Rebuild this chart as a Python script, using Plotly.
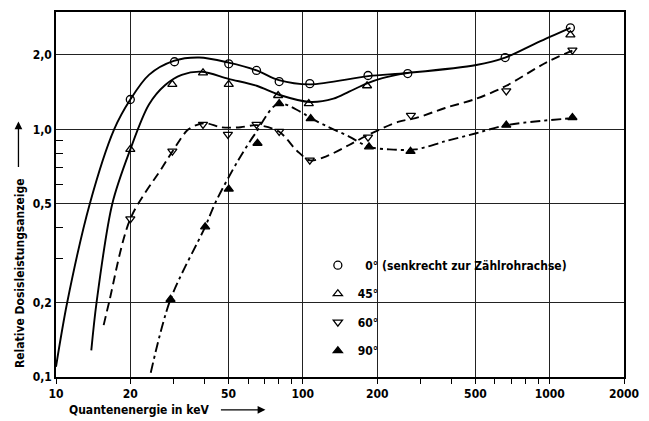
import plotly.graph_objects as go

# ---- axis ticks ----
x_tickvals = [10, 20, 50, 100, 200, 500, 1000, 2000]
x_ticktext = ["10", "20", "50", "100", "200", "500", "1000", "2000"]
x_minor = [30, 40, 60, 70, 80, 90, 300, 400, 600, 700, 800, 900]
y_tickvals = [0.1, 0.2, 0.5, 1.0, 2.0]
y_ticktext = ["0,1", "0,2", "0,5", "1,0", "2,0"]
y_minor = [0.3, 0.4, 0.6, 0.7, 0.8, 0.9]

# ---- measured points (markers) ----
e0 = [20, 30.2, 50.1, 64.9, 80.2, 106.7, 183.7, 266, 660, 1213]
r0 = [1.32, 1.875, 1.84, 1.73, 1.56, 1.53, 1.65, 1.68, 1.95, 2.57]
e45 = [20, 29.6, 39.4, 50.1, 79.4, 105.7, 182, 1213]
r45 = [0.83, 1.52, 1.69, 1.52, 1.37, 1.27, 1.50, 2.41]
e60 = [20, 29.6, 39.4, 49.7, 64.9, 80.2, 106.7, 183.7, 274, 667, 1236]
r60 = [0.435, 0.817, 1.047, 0.955, 1.047, 0.982, 0.751, 0.93, 1.14, 1.43, 2.09]
e90 = [29.1, 40.2, 50.1, 65.5, 80.2, 107.6, 185.4, 273, 667, 1236]
r90 = [0.206, 0.404, 0.574, 0.879, 1.27, 1.106, 0.85, 0.815, 1.04, 1.117]

# ---- drawn curves ----
c0_e = [10.0, 11.1, 13.7, 17.2, 20, 23.8, 30, 38, 50, 65, 80, 107, 184, 266, 504, 660, 890, 1213]
c0_r = [0.11, 0.2, 0.5, 1.0, 1.32, 1.66, 1.89, 1.95, 1.86, 1.73, 1.58, 1.52, 1.64, 1.69, 1.82, 1.95, 2.24, 2.57]
c45_e = [13.9, 14.6, 16.9, 20, 23.8, 27.7, 32.3, 39, 50, 65, 80, 107, 133, 154, 181, 210, 266]
c45_r = [0.128, 0.2, 0.5, 0.83, 1.26, 1.51, 1.66, 1.71, 1.60, 1.50, 1.38, 1.29, 1.33, 1.42, 1.53, 1.61, 1.69]
c60_e = [15.6, 16.4, 20, 26.9, 30, 34.4, 40, 46.5, 56, 65, 80, 94.6, 107, 125, 154, 184, 245, 286, 377, 504, 667, 975, 1236]
c60_r = [0.162, 0.2, 0.435, 0.70, 0.83, 1.0, 1.06, 1.02, 1.02, 1.04, 0.98, 0.82, 0.75, 0.78, 0.865, 0.95, 1.075, 1.11, 1.22, 1.33, 1.50, 1.87, 2.08]
c90_e = [24.2, 29.1, 40.2, 44.4, 54.5, 63.6, 79.4, 97.5, 107.6, 125, 154, 185, 224, 286, 377, 504, 667, 1236]
c90_r = [0.104, 0.206, 0.404, 0.51, 0.745, 0.95, 1.27, 1.18, 1.11, 1.03, 0.935, 0.85, 0.83, 0.83, 0.895, 0.965, 1.04, 1.11]

names = ["\u20070° (senkrecht zur Zählrohrachse)", "45°", "60°", "90°"]

FONT = "Liberation Sans Narrow, DejaVu Sans Condensed, Arial Narrow, sans-serif"

fig = go.Figure()

curves = [
    (c0_e, c0_r, "solid"),
    (c45_e, c45_r, "solid"),
    (c60_e, c60_r, "9px,5px"),
    (c90_e, c90_r, "10px,4px,3px,4px"),
]
for ce, cr, dash in curves:
    fig.add_trace(go.Scatter(x=ce, y=cr, mode="lines", showlegend=False,
                             line=dict(color="black", width=1.9, dash=dash, shape="spline", smoothing=0.9),
                             hoverinfo="skip"))

markers = [
    (e0, r0, "circle-open", names[0]),
    (e45, r45, "triangle-up-open", names[1]),
    (e60, r60, "triangle-down-open", names[2]),
    (e90, r90, "triangle-up", names[3]),
]
for i, (me, mr, sym, nm) in enumerate(markers):
    fig.add_trace(go.Scatter(x=me, y=mr, mode="markers", name=nm, legendgroup=str(i),
                             marker=dict(symbol=sym, size=8, color="black",
                                         line=dict(color="black", width=1.3)),
                             cliponaxis=False))

fig.add_shape(type="rect", xref="paper", yref="paper", x0=0.4626, x1=0.897, y0=0.267, y1=0.3406,
              fillcolor="white", line=dict(width=0), layer="between")
fig.add_shape(type="rect", xref="paper", yref="paper", x0=0.4626, x1=0.5687, y0=0.0327, y1=0.3406,
              fillcolor="white", line=dict(width=0), layer="between")

fig.add_annotation(text="Relative Dosisleistungsanzeige", textangle=-90, xref="paper", yref="paper",
                   x=-0.0643, y=0.286, xanchor="center", yanchor="middle", showarrow=False,
                   font=dict(family=FONT, size=12, color="black", weight="bold"))
fig.add_annotation(text="Quantenenergie in keV", xref="paper", yref="paper",
                   x=0.146, y=-0.0899, xanchor="center", yanchor="middle", showarrow=False,
                   font=dict(family=FONT, size=12, color="black", weight="bold"))
# arrows
fig.add_annotation(text="", xref="paper", yref="paper", x=0.3687, y=-0.0899, ax=-46, ay=0,
                   showarrow=True, arrowhead=2, arrowsize=1.2, arrowwidth=1.3, arrowcolor="black")
fig.add_annotation(text="", xref="paper", yref="paper", x=-0.0661, y=0.700, ax=0, ay=47,
                   showarrow=True, arrowhead=2, arrowsize=1.2, arrowwidth=1.3, arrowcolor="black")

fig.update_layout(
    width=649, height=421,
    margin=dict(l=56, r=18, t=10, b=44),
    paper_bgcolor="white", plot_bgcolor="white",
    font=dict(family=FONT, size=12, color="black", weight="bold"),
    legend=dict(x=0.461, y=0.3460, xanchor="left", yanchor="top", bgcolor="rgba(0,0,0,0)",
                traceorder="grouped", tracegroupgap=9.5, itemwidth=30,
                font=dict(family=FONT, size=12, color="black", weight="bold")),
    xaxis=dict(type="log", range=[1, 3.30103], tickvals=x_tickvals, ticktext=x_ticktext,
               showgrid=True, gridcolor="#222", gridwidth=1,
               showline=True, mirror=True, linecolor="black", linewidth=1.6,
               ticks="outside", ticklen=5, tickcolor="black", tickwidth=1.2,
               minor=dict(tickvals=x_minor, ticks="outside", ticklen=5, tickcolor="black", tickwidth=1.2, showgrid=False),
               tickfont=dict(family=FONT, size=12, color="black", weight="bold")),
    yaxis=dict(type="log", range=[-1, 0.474], tickvals=y_tickvals, ticktext=y_ticktext,
               showgrid=True, gridcolor="#222", gridwidth=1,
               showline=True, mirror=True, linecolor="black", linewidth=1.6,
               ticks="",
               minor=dict(tickvals=y_minor, ticks="inside", ticklen=7, tickcolor="black", tickwidth=1.2, showgrid=False),
               tickfont=dict(family=FONT, size=12, color="black", weight="bold")),
)

fig.write_html("out.html")
